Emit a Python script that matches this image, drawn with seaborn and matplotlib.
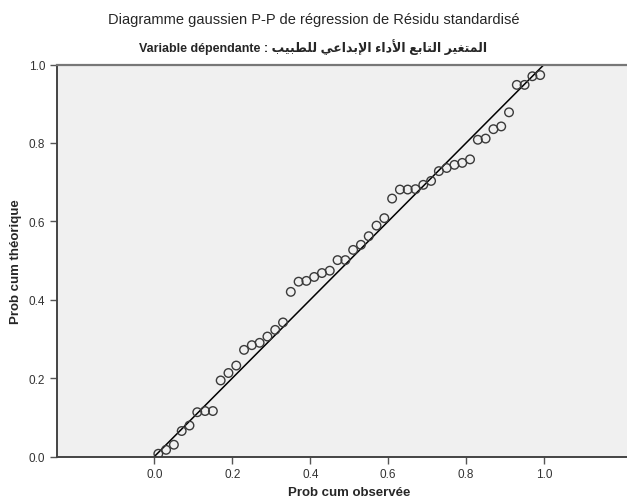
import numpy as np
import pandas as pd
import seaborn as sns
import matplotlib.pyplot as plt

obs = [0.01, 0.03, 0.05, 0.07, 0.09, 0.11, 0.13, 0.15, 0.17, 0.19,
       0.21, 0.23, 0.25, 0.27, 0.29, 0.31, 0.33, 0.35, 0.37, 0.39,
       0.41, 0.43, 0.45, 0.47, 0.49, 0.51, 0.53, 0.55, 0.57, 0.59,
       0.61, 0.63, 0.65, 0.67, 0.69, 0.71, 0.73, 0.75, 0.77, 0.79,
       0.81, 0.83, 0.85, 0.87, 0.89, 0.91, 0.93, 0.95, 0.97, 0.99]
theo = [0.007, 0.017, 0.030, 0.065, 0.079, 0.113, 0.116, 0.116, 0.194, 0.213,
        0.232, 0.272, 0.284, 0.290, 0.306, 0.323, 0.342, 0.420, 0.446, 0.448,
        0.458, 0.468, 0.474, 0.501, 0.501, 0.527, 0.540, 0.562, 0.589, 0.608,
        0.658, 0.681, 0.681, 0.682, 0.693, 0.703, 0.728, 0.736, 0.744, 0.749,
        0.758, 0.808, 0.811, 0.835, 0.842, 0.878, 0.948, 0.948, 0.970, 0.973]
diag = [0.0, 1.0]
ticks = [0.0, 0.2, 0.4, 0.6, 0.8, 1.0]
tick_labels = ["0.0", "0.2", "0.4", "0.6", "0.8", "1.0"]

title = "Diagramme gaussien P-P de régression de Résidu standardisé"
# arabic dependent variable, written with presentation forms (logical order)
ar_shaped = ("\uFE8D\uFEDF\uFEE4\uFE98\uFED0\uFEF4\uFEAE" + " " +
             "\uFE8D\uFEDF\uFE98\uFE8E\uFE91\uFECA" + " " +
             "\uFE8D\uFEF7\uFEA9\uFE8D\uFE80" + " " +
             "\uFE8D\uFEF9\uFE91\uFEAA\uFE8D\uFECB\uFEF2" + " " +
             "\uFEDF\uFEE0\uFEC4\uFE92\uFEF4\uFE90")
subtitle = "Variable dépendante : " + ar_shaped[::-1]
xlab = "Prob cum observée"
ylab = "Prob cum théorique"

df = pd.DataFrame({"obs": obs, "theo": theo})

sns.set_style("ticks")
plt.rcParams['font.family'] = ['Liberation Sans', 'DejaVu Sans']

fig = plt.figure(figsize=(6.27, 5.02), dpi=100)
ax = fig.add_axes([57/627, 1-457.5/502, 584.5/627, 392/502])
ax.set_facecolor("#f0f0f0")

ax.plot(diag, diag, color="black", lw=1.1, zorder=2)
sns.scatterplot(data=df, x="obs", y="theo", ax=ax, marker="o", s=38,
                facecolor="none", edgecolor="#3a3a3a", linewidth=1.0, zorder=3)

ax.set_xlim(-0.25, 1.25)
ax.set_ylim(0, 1)
ax.set_xticks(ticks)
ax.set_xticklabels(tick_labels)
ax.set_yticks(ticks)
ax.set_yticklabels(tick_labels)
ax.tick_params(axis="both", labelsize=8.5, colors="#555555", labelcolor="#333333",
               length=5, width=1)

for s in ["left", "bottom"]:
    ax.spines[s].set_color("#444444")
    ax.spines[s].set_linewidth(1.4)
ax.spines["top"].set_visible(True)
ax.spines["top"].set_color("#777777")
ax.spines["top"].set_linewidth(1.6)
ax.spines["right"].set_visible(False)

ax.set_xlabel(xlab, fontsize=9.5, fontweight="bold", labelpad=4)
ax.set_ylabel(ylab, fontsize=9.5, fontweight="bold", labelpad=5)

fig.text(0.5, 1-20/502, title, ha="center", va="center", fontsize=10.5)
fig.text(0.5, 1-47/502, subtitle, ha="center", va="center", fontsize=9.0,
         fontweight="bold")

fig.savefig("out.png", dpi=100)
